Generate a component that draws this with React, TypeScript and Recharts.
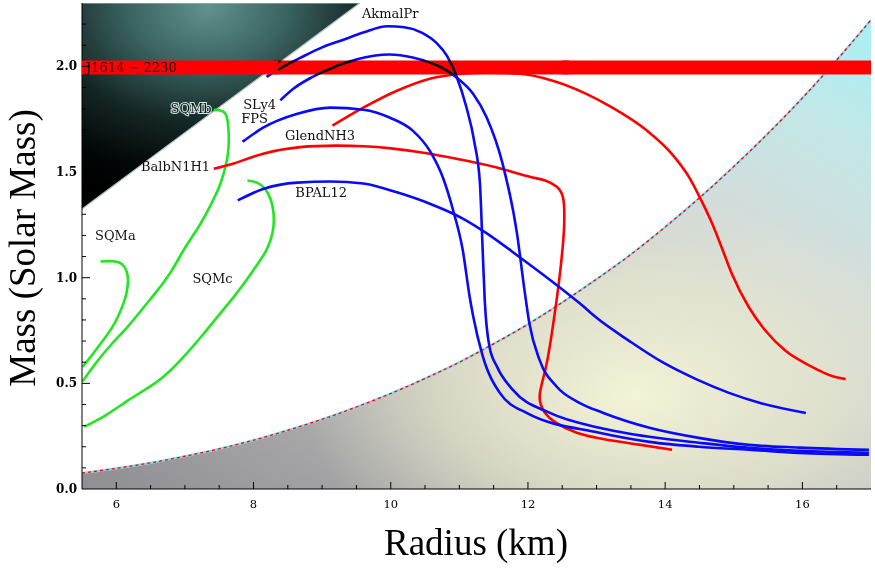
import React from 'react';
import { ComposedChart, Line, Area, XAxis, YAxis, ReferenceArea, ReferenceDot } from 'recharts';

// mass-radius curves: radius (km) and mass (solar masses)
const akmalR = [8.19, 8.44, 8.68, 9.0, 9.3, 9.6, 9.95, 10.2, 10.45, 10.67, 10.82, 10.95, 11.1, 11.22, 11.3, 11.34, 11.37, 11.44, 11.55, 11.78, 12.32, 13.04, 13.77, 14.49, 15.22, 15.95, 16.97];
const akmalM = [1.95, 2.0, 2.04, 2.09, 2.125, 2.16, 2.19, 2.185, 2.16, 2.11, 2.05, 1.96, 1.81, 1.64, 1.446, 1.13, 0.894, 0.672, 0.578, 0.469, 0.36, 0.29, 0.247, 0.219, 0.195, 0.181, 0.171];

const sly4R = [8.39, 8.58, 8.83, 9.02, 9.31, 9.51, 9.75, 9.98, 10.32, 10.62, 10.82, 10.96, 11.2, 11.4, 11.63, 11.84, 11.95, 12.02, 12.17, 12.42, 12.75, 13.1, 13.77, 14.49, 15.22, 15.95, 16.97];
const sly4M = [1.839, 1.894, 1.945, 1.975, 2.014, 2.034, 2.05, 2.056, 2.042, 2.012, 1.98, 1.947, 1.87, 1.757, 1.54, 1.21, 0.94, 0.785, 0.61, 0.484, 0.408, 0.36, 0.29, 0.242, 0.209, 0.196, 0.185];

const fpsR = [7.84, 8.14, 8.64, 9.12, 9.6, 9.99, 10.32, 10.57, 10.76, 10.91, 11.05, 11.15, 11.2, 11.34, 11.59, 11.98, 13.04, 13.77, 14.49, 15.22, 15.95, 16.97];
const fpsM = [1.643, 1.71, 1.776, 1.805, 1.795, 1.757, 1.696, 1.6, 1.474, 1.318, 1.13, 0.91, 0.82, 0.63, 0.455, 0.36, 0.266, 0.223, 0.2, 0.186, 0.171, 0.162];

const bpalR = [7.77, 8.14, 8.64, 9.12, 9.6, 10.09, 10.57, 11.05, 11.4, 11.88, 12.46, 12.75, 13.0, 13.48, 13.96, 14.45, 14.93, 15.41, 16.05];
const bpalM = [1.366, 1.42, 1.45, 1.455, 1.446, 1.404, 1.35, 1.28, 1.21, 1.097, 0.955, 0.88, 0.81, 0.7, 0.6, 0.52, 0.455, 0.405, 0.36];

const glendR = [9.15, 9.6, 10.09, 10.57, 11.05, 11.4, 11.88, 12.36, 12.85, 13.23, 13.72, 14.1, 14.35, 14.49, 14.68, 14.81, 14.97, 15.22, 15.46, 15.75, 16.14, 16.43, 16.63];
const glendM = [1.72, 1.805, 1.885, 1.942, 1.965, 1.97, 1.965, 1.932, 1.87, 1.805, 1.7, 1.585, 1.475, 1.39, 1.26, 1.155, 1.02, 0.86, 0.75, 0.655, 0.578, 0.535, 0.52];

const balbR = [7.42, 7.71, 8.14, 8.68, 9.2, 9.6, 10.0, 10.5, 11.0, 11.5, 12.0, 12.25, 12.42, 12.51, 12.53, 12.52, 12.48, 12.42, 12.34, 12.25, 12.17, 12.25, 12.4, 12.71, 13.15, 13.62, 14.1];
const balbM = [1.516, 1.54, 1.587, 1.618, 1.625, 1.622, 1.612, 1.59, 1.56, 1.525, 1.48, 1.46, 1.43, 1.38, 1.3, 1.2, 1.06, 0.9, 0.72, 0.56, 0.436, 0.36, 0.315, 0.266, 0.233, 0.21, 0.186];

const sqmaR = [5.77, 5.95, 6.08, 6.15, 6.17, 6.15, 6.1, 6.03, 5.93, 5.8, 5.66, 5.51];
const sqmaM = [1.077, 1.078, 1.065, 1.03, 0.985, 0.93, 0.875, 0.82, 0.76, 0.7, 0.64, 0.578];

const sqmbR = [7.42, 7.53, 7.6, 7.63, 7.64, 7.62, 7.57, 7.5, 7.4, 7.28, 7.14, 6.98, 6.8, 6.6, 6.4, 6.17, 5.93, 5.7, 5.51];
const sqmbM = [1.794, 1.79, 1.77, 1.72, 1.65, 1.57, 1.5, 1.43, 1.36, 1.285, 1.21, 1.13, 1.03, 0.94, 0.86, 0.77, 0.685, 0.595, 0.51];

const sqmcR = [7.91, 8.05, 8.17, 8.25, 8.29, 8.29, 8.25, 8.17, 8.05, 7.9, 7.71, 7.5, 7.26, 6.98, 6.7, 6.42, 6.15, 5.85, 5.53];
const sqmcM = [1.46, 1.45, 1.42, 1.37, 1.31, 1.24, 1.18, 1.12, 1.06, 0.99, 0.908, 0.825, 0.73, 0.625, 0.535, 0.47, 0.415, 0.35, 0.294];

// excluded region boundary (lower right) and causality limit (upper left)
const shadeR = [5.5, 6, 6.5, 7, 7.5, 8, 8.5, 9, 9.5, 10, 10.5, 11, 11.5, 12, 12.5, 13, 13.5, 14, 14.5, 15, 15.5, 16, 16.5, 17];
const shadeM = [0.075, 0.098, 0.124, 0.155, 0.19, 0.231, 0.278, 0.33, 0.388, 0.452, 0.523, 0.6, 0.687, 0.78, 0.883, 0.993, 1.11, 1.24, 1.378, 1.526, 1.683, 1.85, 2.03, 2.22];
const causalR = [5.5, 9.55];
const causalM = [1.325, 2.3];
const massTop = 2.3;

// J1614-2230 mass band
const bandLo = 1.962;
const bandHi = 2.028;

const xTicks = [6, 6.5, 7, 7.5, 8, 8.5, 9, 9.5, 10, 10.5, 11, 11.5, 12, 12.5, 13, 13.5, 14, 14.5, 15, 15.5, 16, 16.5];
const yTicks = [0, 0.1, 0.2, 0.3, 0.4, 0.5, 0.6, 0.7, 0.8, 0.9, 1.0, 1.1, 1.2, 1.3, 1.4, 1.5, 1.6, 1.7, 1.8, 1.9, 2.0, 2.1, 2.2];

const curveLabels = [
  { text: 'AkmalPr', r: 9.58, m: 2.23 },
  { text: 'SLy4', r: 7.85, m: 1.8 },
  { text: 'FPS', r: 7.82, m: 1.734 },
  { text: 'GlendNH3', r: 8.46, m: 1.65 },
  { text: 'BalbN1H1', r: 6.36, m: 1.503 },
  { text: 'BPAL12', r: 8.61, m: 1.38 },
  { text: 'SQMa', r: 5.69, m: 1.177 },
  { text: 'SQMb', r: 6.79, m: 1.781 },
  { text: 'SQMc', r: 7.11, m: 0.974 },
  { text: 'J1614 \u2212 2230', r: 5.56, m: 1.975 },
];

const pts = (rs: number[], ms: number[]) => rs.map((r, i) => ({ r, m: ms[i] }));

const BLUE = '#0a0af5';
const RED = '#ff0000';
const GREEN = '#22e622';
const serif = '"DejaVu Serif", serif';

const isMajorX = (v: number) => Math.abs(v % 2) < 1e-6;
const isMajorY = (v: number) => Math.abs((v * 10) % 5) < 1e-6;

const BottomTick = ({ x, y, payload }: any) => {
  const major = isMajorX(payload.value);
  return (
    <g>
      <line x1={x} x2={x} y1={y} y2={y - (major ? 7 : 4)} stroke="#000" />
      {major && (
        <text x={x} y={y + 19} textAnchor="middle" fontSize={11.5} fontFamily={serif} fill="#000">
          {payload.value}
        </text>
      )}
    </g>
  );
};

const TopTick = ({ x, y, payload }: any) => {
  const major = isMajorX(payload.value);
  return <line x1={x} x2={x} y1={y} y2={y + (major ? 7 : 4)} stroke="#000" />;
};

const LeftTick = ({ x, y, payload }: any) => {
  const major = isMajorY(payload.value);
  return (
    <g>
      {payload.value > 0 && <line x1={x} x2={x + (major ? 8 : 4)} y1={y} y2={y} stroke="#000" />}
      {major && (
        <text x={x - 5} y={y + 4} textAnchor="end" fontSize={12} fontWeight="bold" fontFamily={serif} fill="#000">
          {payload.value.toFixed(1)}
        </text>
      )}
    </g>
  );
};

const RightTick = ({ x, y, payload }: any) => {
  const major = isMajorY(payload.value);
  if (payload.value <= 0) return <g />;
  return <line x1={x} x2={x - (major ? 8 : 4)} y1={y} y2={y} stroke="#000" />;
};

const LabelShape = (text: string) => (props: any) => (
  <text
    x={props.cx}
    y={props.cy}
    fontSize={13}
    fontFamily={serif}
    fill="#111"
    stroke={text === 'SQMb' ? '#cfe8e4' : 'none'}
    strokeWidth={text === 'SQMb' ? 2 : 0}
    paintOrder="stroke"
  >
    {text}
  </text>
);

// monotone in radius -> monotone spline; looping curves -> natural spline
const curves = [
  { key: 'sqma', data: pts(sqmaR, sqmaM), color: GREEN, type: 'natural' },
  { key: 'sqmb', data: pts(sqmbR, sqmbM), color: GREEN, type: 'natural' },
  { key: 'sqmc', data: pts(sqmcR, sqmcM), color: GREEN, type: 'natural' },
  { key: 'balb', data: pts(balbR, balbM), color: RED, type: 'natural' },
  { key: 'glend', data: pts(glendR, glendM), color: RED, type: 'monotone' },
  { key: 'bpal', data: pts(bpalR, bpalM), color: BLUE, type: 'monotone' },
  { key: 'fps', data: pts(fpsR, fpsM), color: BLUE, type: 'monotone' },
  { key: 'akmal', data: pts(akmalR, akmalM), color: BLUE, type: 'monotone' },
  { key: 'sly4', data: pts(sly4R, sly4M), color: BLUE, type: 'monotone' },
];

export default function App() {
  const shadeData = pts(shadeR, shadeM);
  const darkData = causalR.map((r, i) => ({ r, band: [causalM[i], massTop] }));

  return (
    <div style={{ position: 'absolute', left: 0, top: 0, width: 875, height: 570, background: '#fff' }}>
      <ComposedChart width={875} height={570} margin={{ top: 3, right: 4, bottom: 0, left: 0 }}>
        <defs>
          <linearGradient id="shadeGrad" x1="0" y1="1" x2="1" y2="0">
            <stop offset="0" stopColor="#8e8e93" />
            <stop offset="0.4" stopColor="#c0c0bd" />
            <stop offset="0.7" stopColor="#d4dcda" />
            <stop offset="0.85" stopColor="#c4e6e6" />
            <stop offset="1" stopColor="#a8f0f3" />
          </linearGradient>
          <radialGradient id="glowGrad" cx="0.7" cy="0.8" r="0.42">
            <stop offset="0" stopColor="#f6f6d8" stopOpacity={0.95} />
            <stop offset="0.6" stopColor="#eeeed0" stopOpacity={0.55} />
            <stop offset="1" stopColor="#e8e8cc" stopOpacity={0} />
          </radialGradient>
          <radialGradient id="darkGrad" cx="0.45" cy="0.02" r="0.95">
            <stop offset="0" stopColor="#62918e" />
            <stop offset="0.3" stopColor="#3a6361" />
            <stop offset="0.6" stopColor="#142624" />
            <stop offset="0.85" stopColor="#030707" />
            <stop offset="1" stopColor="#000" />
          </radialGradient>
        </defs>

        <XAxis
          xAxisId={0}
          dataKey="r"
          type="number"
          domain={[5.5, 17]}
          allowDataOverflow
          ticks={xTicks}
          interval={0}
          tickSize={0}
          tickMargin={0}
          tick={BottomTick}
          height={81}
          stroke="#000"
          label={{
            content: () => (
              <text x={476} y={555} textAnchor="middle" fontSize={37} fontFamily='"Liberation Serif", serif' fill="#000">
                Radius (km)
              </text>
            ),
          }}
        />
        <XAxis
          xAxisId="top"
          orientation="top"
          dataKey="r"
          type="number"
          domain={[5.5, 17]}
          allowDataOverflow
          ticks={xTicks}
          interval={0}
          tickSize={0}
          tickMargin={0}
          tick={TopTick}
          height={0}
          stroke="#000"
        />
        <YAxis
          yAxisId={0}
          type="number"
          domain={[0, 2.3]}
          allowDataOverflow
          ticks={yTicks}
          interval={0}
          tickSize={0}
          tickMargin={0}
          tick={LeftTick}
          width={82}
          stroke="#000"
          label={{
            content: () => (
              <text
                transform="translate(35,248) rotate(-90)"
                textAnchor="middle"
                fontSize={37}
                fontFamily='"Liberation Serif", serif'
                fill="#000"
              >
                Mass (Solar Mass)
              </text>
            ),
          }}
        />
        <YAxis
          yAxisId="right"
          orientation="right"
          type="number"
          domain={[0, 2.3]}
          allowDataOverflow
          ticks={yTicks}
          interval={0}
          tickSize={0}
          tickMargin={0}
          tick={RightTick}
          width={0}
          stroke="#000"
        />

        <Area data={shadeData} dataKey="m" type="monotone" baseValue={0} stroke="none" fill="url(#shadeGrad)" fillOpacity={1} isAnimationActive={false} />
        <Area data={shadeData} dataKey="m" type="monotone" baseValue={0} stroke="none" fill="url(#glowGrad)" fillOpacity={1} isAnimationActive={false} />
        <Line data={shadeData} dataKey="m" type="monotone" stroke="#80dcec" strokeWidth={2.2} dot={false} isAnimationActive={false} />
        <Line data={shadeData} dataKey="m" type="monotone" stroke={RED} strokeWidth={1.3} strokeDasharray="3 3" dot={false} isAnimationActive={false} />
        <Area data={darkData} dataKey="band" type="linear" stroke="#b0c4c2" strokeWidth={1.2} fill="url(#darkGrad)" fillOpacity={1} isAnimationActive={false} />

        {curves.map((c) => (
          <Line
            key={c.key}
            data={c.data}
            dataKey="m"
            type={c.type as any}
            stroke={c.color}
            strokeWidth={2.6}
            dot={false}
            isAnimationActive={false}
          />
        ))}

        {/* band: multiplied where the curves cross it, plain red over the shaded regions */}
        <ReferenceArea
          x1={8.3}
          x2={12.6}
          y1={bandLo}
          y2={bandHi}
          fill={RED}
          fillOpacity={1}
          stroke="none"
          zIndex={900}
          style={{ mixBlendMode: 'multiply' }}
        />
        <ReferenceArea x1={5.5} x2={8.36} y1={bandLo} y2={bandHi} fill={RED} fillOpacity={1} stroke="none" zIndex={901} />
        <ReferenceArea x1={12.5} x2={17} y1={bandLo} y2={bandHi} fill={RED} fillOpacity={1} stroke="none" zIndex={901} />

        {curveLabels.map((l) => (
          <ReferenceDot key={l.text} x={l.r} y={l.m} r={0} shape={LabelShape(l.text)} zIndex={1000} />
        ))}
      </ComposedChart>
    </div>
  );
}
